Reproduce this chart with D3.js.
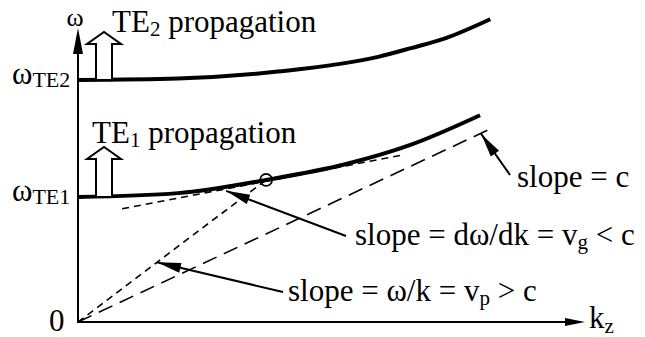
<!DOCTYPE html>
<html>
<head>
<meta charset="utf-8">
<script src="https://cdn.jsdelivr.net/npm/d3@7"></script>
<style>
  html, body { margin: 0; padding: 0; background: #fff; }
  svg { display: block; }
</style>
</head>
<body>
<svg id="chart" width="645" height="337"></svg>
<script>
// Dispersion curves of the TE1 and TE2 waveguide modes (k_z, omega), arbitrary units
const kTE1 = [0, 1.97, 3.71, 5.27, 6.57, 7.93];
const wTE1 = [2.55, 2.63, 2.90, 3.22, 3.62, 4.22];
const kTE2 = [0, 1.97, 3.94, 5.92, 6.57, 7.24, 8.13];
const wTE2 = [4.94, 4.97, 5.11, 5.41, 5.59, 5.79, 6.18];

// Light line (slope = c), its end point
const lightLineEnd = [8.09, 3.92];
// Operating point on the TE1 curve
const opPoint = [3.71, 2.90];
// Tangent to the TE1 curve at the operating point (two end points)
const tangentK = [0.87, 6.41];
const tangentW = [2.31, 3.41];

// Cutoff labels and text
const cutoffLabels = [{base: "ω", sub: "TE2", w: wTE2[0]}, {base: "ω", sub: "TE1", w: wTE1[0]}];
const modeLabels = [{name: "TE", sub: "2", text: " propagation"}, {name: "TE", sub: "1", text: " propagation"}];

const FONT = "\"Liberation Serif\", monospace";
const svg = d3.select("#chart");
const x = d3.scaleLinear().domain([0, 10]).range([78, 585]);
const y = d3.scaleLinear().domain([0, 6]).range([322, 28]);

const FS = 31, FSUB = 21;

function arrowHead(x1, y1, x2, y2, len, wid) {
  const a = Math.atan2(y2 - y1, x2 - x1);
  const bx = x2 - len * Math.cos(a), by = y2 - len * Math.sin(a);
  const px = -Math.sin(a) * wid / 2, py = Math.cos(a) * wid / 2;
  return `M${x2},${y2}L${bx + px},${by + py}L${bx - px},${by - py}Z`;
}
function txt(xp, yp, size) {
  return svg.append("text").attr("x", xp).attr("y", yp)
    .attr("font-family", FONT).attr("font-size", size).attr("fill", "#000");
}
function sub(t, s, size, dy) {
  t.append("tspan").attr("font-family", FONT).attr("font-size", size).attr("dy", dy).text(s);
}

// Axes
const x0 = x(0), y0 = y(0);
svg.append("line").attr("x1", x0).attr("y1", y0).attr("x2", x(10) - 10).attr("y2", y0)
  .attr("stroke", "#000").attr("stroke-width", 2);
svg.append("path").attr("d", arrowHead(x0, y0, x(10), y0, 20, 8)).attr("fill", "#000");
svg.append("line").attr("x1", x0).attr("y1", y0 + 1).attr("x2", x0).attr("y2", y(6) + 10)
  .attr("stroke", "#000").attr("stroke-width", 2);
svg.append("path").attr("d", arrowHead(x0, y0, x0, y(6), 26, 10)).attr("fill", "#000");

// Axis labels
txt(x0 - 3, 26, 26).attr("text-anchor", "middle").text("ω");
const kz = txt(589, 328, FS);
sub(kz, "k", FS, 0);
sub(kz, "z", FSUB, 5);
txt(49, 331, FS).text("0");

// Cutoff labels
cutoffLabels.forEach(d => {
  const t = txt(12, y(d.w) + 4, FS);
  sub(t, d.base, FS, 0);
  sub(t, d.sub, 22, 3);
});

// Dashed construction lines
const dashShort = "7,5", dashLong = "15,8";
svg.append("line")
  .attr("x1", x(tangentK[0])).attr("y1", y(tangentW[0]))
  .attr("x2", x(tangentK[1])).attr("y2", y(tangentW[1]))
  .attr("stroke", "#000").attr("stroke-width", 1.6).attr("stroke-dasharray", dashShort);
svg.append("line")
  .attr("x1", x0).attr("y1", y0).attr("x2", x(opPoint[0])).attr("y2", y(opPoint[1]))
  .attr("stroke", "#000").attr("stroke-width", 1.6).attr("stroke-dasharray", dashShort);
svg.append("line")
  .attr("x1", x0).attr("y1", y0).attr("x2", x(lightLineEnd[0])).attr("y2", y(lightLineEnd[1]))
  .attr("stroke", "#000").attr("stroke-width", 1.6).attr("stroke-dasharray", dashLong);

// Dispersion curves
const line = d3.line().x(d => x(d[0])).y(d => y(d[1])).curve(d3.curveMonotoneX);
[[kTE1, wTE1], [kTE2, wTE2]].forEach(([ks, ws]) => {
  svg.append("path").attr("d", line(ks.map((k, i) => [k, ws[i]])))
    .attr("fill", "none").attr("stroke", "#000").attr("stroke-width", 4);
});

// Operating point marker
svg.append("circle").attr("cx", x(opPoint[0])).attr("cy", y(opPoint[1])).attr("r", 6)
  .attr("fill", "none").attr("stroke", "#000").attr("stroke-width", 1.6);

// Hollow "propagation" arrows above each cutoff
[wTE2[0], wTE1[0]].forEach((w, i) => {
  const yb = y(w) - 1, cx = 104, bw = 8, hw = 17;
  const yh = yb - (i === 0 ? 35 : 37), yt = yh - 12;
  svg.append("path")
    .attr("d", `M${cx - bw},${yb}L${cx - bw},${yh}L${cx - hw},${yh}L${cx},${yt}L${cx + hw},${yh}L${cx + bw},${yh}L${cx + bw},${yb}`)
    .attr("fill", "#fff").attr("stroke", "#000").attr("stroke-width", 2);
});

// Mode labels
[[112, 32], [92, 143]].forEach(([lx, ly], i) => {
  const d = modeLabels[i];
  const t = txt(lx, ly, FS);
  sub(t, d.name, FS, 0);
  sub(t, d.sub, FSUB, 4);
  sub(t, d.text, FS, -4);
});

// Pointer annotations
function pointer(tx, ty, hx, hy) {
  svg.append("line").attr("x1", tx).attr("y1", ty).attr("x2", hx).attr("y2", hy)
    .attr("stroke", "#000").attr("stroke-width", 2);
  svg.append("path").attr("d", arrowHead(tx, ty, hx, hy, 24, 10)).attr("fill", "#000");
}
// slope = c : points at the end of the light line
const cx1 = x(lightLineEnd[0]) - 7, cy1 = y(lightLineEnd[1]) + 4;
pointer(510, 175, cx1, cy1);
txt(517, 187, FS).text("slope = c");

// group velocity: points at the tangent line, just right of the operating point
const tf = 0.37;
const gx = x(tangentK[0] + tf * (tangentK[1] - tangentK[0]));
const gy = y(tangentW[0] + tf * (tangentW[1] - tangentW[0])) + 2;
pointer(346, 236, gx, gy);
let t = txt(355, 245, FS);
sub(t, "slope = dω/dk = v", FS, 0);
sub(t, "g", FSUB, 4);
sub(t, " < c", FS, -4);

// phase velocity: points at the origin-to-operating-point line
const pf = 0.42;
const px = x(pf * opPoint[0]), py = y(pf * opPoint[1]);
pointer(283, 292, px, py);
t = txt(288, 301, FS);
sub(t, "slope = ω/k = v", FS, 0);
sub(t, "p", FSUB, 4);
sub(t, " > c", FS, -4);
</script>
</body>
</html>
